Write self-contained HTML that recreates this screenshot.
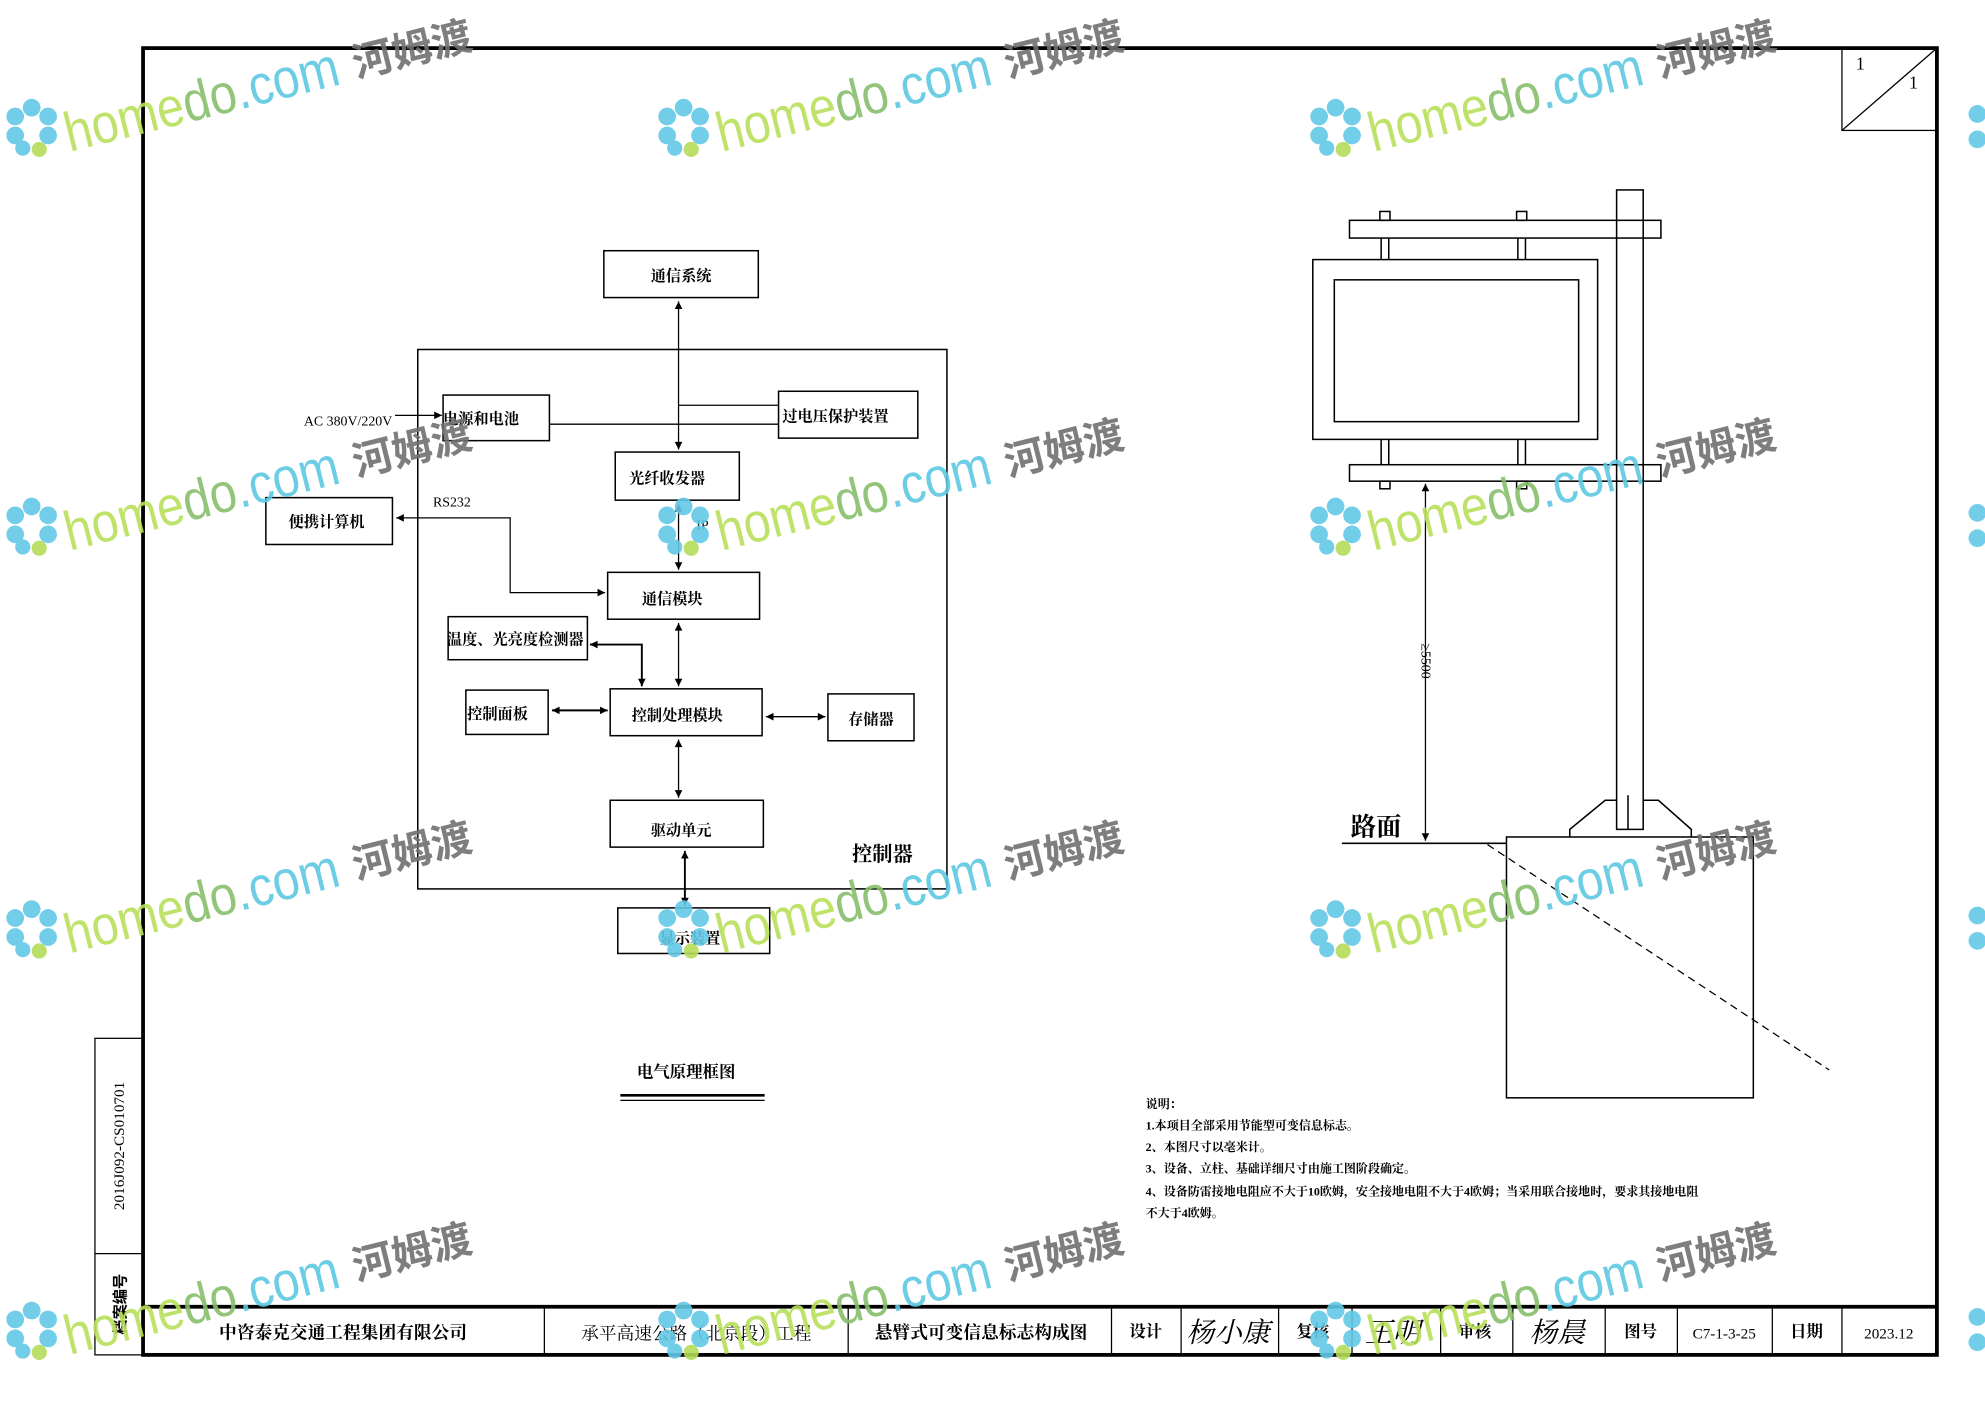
<!DOCTYPE html>
<html><head><meta charset="utf-8"><style>
html,body{margin:0;padding:0;background:#fff}
svg{display:block}
text{font-family:"Liberation Serif","Noto Serif CJK SC","Noto Sans CJK SC",serif}
.b{font-family:"Liberation Sans","Noto Sans CJK SC",sans-serif;font-weight:bold}
.w{font-family:"Liberation Sans",sans-serif}
</style></head><body>
<svg width="1985" height="1403" viewBox="0 0 1568 1108" preserveAspectRatio="none" xmlns="http://www.w3.org/2000/svg">
<defs>
<marker id="a" viewBox="0 0 10 10" refX="10" refY="5" markerWidth="8" markerHeight="6" orient="auto-start-reverse" markerUnits="userSpaceOnUse"><path d="M0,0L10,5L0,10z" fill="#000"/></marker>
</defs>
<g fill="none" stroke="#000">
<rect x="113" y="38" width="1417" height="1032" stroke-width="3"/>
<line x1="113" y1="1032" x2="1530" y2="1032" stroke-width="3"/>
<g stroke-width="1">
<line x1="430" y1="1032" x2="430" y2="1070"/><line x1="670" y1="1032" x2="670" y2="1070"/>
<line x1="878" y1="1032" x2="878" y2="1070"/><line x1="933" y1="1032" x2="933" y2="1070"/>
<line x1="1010" y1="1032" x2="1010" y2="1070"/><line x1="1068" y1="1032" x2="1068" y2="1070"/>
<line x1="1138" y1="1032" x2="1138" y2="1070"/><line x1="1195" y1="1032" x2="1195" y2="1070"/>
<line x1="1268" y1="1032" x2="1268" y2="1070"/><line x1="1325" y1="1032" x2="1325" y2="1070"/>
<line x1="1400" y1="1032" x2="1400" y2="1070"/><line x1="1455" y1="1032" x2="1455" y2="1070"/>
<rect x="75" y="820" width="38" height="250"/><line x1="75" y1="990" x2="113" y2="990"/>
<rect x="1455" y="38" width="75" height="65"/><line x1="1455" y1="103" x2="1530" y2="38"/>
</g>
<g stroke-width="1.2">
<rect x="330" y="276" width="418" height="426"/>
<rect x="477" y="198" width="122" height="37"/>
<rect x="350" y="312" width="84" height="36"/>
<rect x="615" y="309" width="110" height="37"/>
<rect x="486" y="357" width="98" height="38"/>
<rect x="210" y="393" width="100" height="37"/>
<rect x="480" y="452" width="120" height="37"/>
<rect x="354" y="487" width="110" height="34"/>
<rect x="368" y="545" width="65" height="35"/>
<rect x="482" y="544" width="120" height="37"/>
<rect x="654" y="548" width="68" height="37"/>
<rect x="482" y="632" width="121" height="37"/>
<rect x="488" y="717" width="120" height="36"/>
</g>
<g stroke-width="1">
<line x1="536" y1="238" x2="536" y2="355" marker-start="url(#a)" marker-end="url(#a)"/>
<polyline points="536,320 615,320"/>
<line x1="434" y1="335" x2="615" y2="335"/>
<line x1="312" y1="328" x2="349" y2="328" marker-end="url(#a)"/>
<line x1="536" y1="398" x2="536" y2="450" marker-start="url(#a)" marker-end="url(#a)"/>
<polyline points="313,409 403,409 403,468 478,468" marker-start="url(#a)" marker-end="url(#a)"/>
<line x1="536" y1="492" x2="536" y2="542" marker-start="url(#a)" marker-end="url(#a)"/>
<polyline points="466,509 507,509 507,542" marker-start="url(#a)" marker-end="url(#a)" stroke-width="1.5"/>
<line x1="436" y1="561" x2="480" y2="561" marker-start="url(#a)" marker-end="url(#a)" stroke-width="1.5"/>
<line x1="605" y1="566" x2="652" y2="566" marker-start="url(#a)" marker-end="url(#a)"/>
<line x1="536" y1="584" x2="536" y2="630" marker-start="url(#a)" marker-end="url(#a)"/>
<line x1="541" y1="672" x2="541" y2="715" marker-start="url(#a)" marker-end="url(#a)" stroke-width="1.5"/>
<line x1="490" y1="865" x2="604" y2="865" stroke-width="2"/>
<line x1="490" y1="869" x2="604" y2="869"/>
</g>
<g stroke-width="1.2">
<rect x="1277" y="150" width="21" height="505"/>
<rect x="1066" y="174" width="246" height="14"/>
<rect x="1066" y="367" width="246" height="13"/>
<rect x="1037" y="205" width="225" height="142"/>
<rect x="1054" y="221" width="193" height="112"/>
<line x1="1091" y1="188" x2="1091" y2="205"/><line x1="1097" y1="188" x2="1097" y2="205"/>
<line x1="1199" y1="188" x2="1199" y2="205"/><line x1="1205" y1="188" x2="1205" y2="205"/>
<line x1="1091" y1="347" x2="1091" y2="367"/><line x1="1097" y1="347" x2="1097" y2="367"/>
<line x1="1199" y1="347" x2="1199" y2="367"/><line x1="1205" y1="347" x2="1205" y2="367"/>
<rect x="1090" y="167" width="8" height="7"/><rect x="1198" y="167" width="8" height="7"/>
<rect x="1090" y="380" width="8" height="6"/><rect x="1198" y="380" width="8" height="6"/>
<polyline points="1240,661 1240,655 1268,632 1277,632"/><polyline points="1298,632 1310,632 1336,655 1336,661"/>
<line x1="1286" y1="628" x2="1286" y2="655"/>
<rect x="1190" y="661" width="195" height="206"/>
<line x1="1060" y1="666" x2="1190" y2="666"/>
</g>
<line x1="1126" y1="382" x2="1126" y2="664" stroke-width="1" marker-start="url(#a)" marker-end="url(#a)"/>
<line x1="1175" y1="667" x2="1445" y2="845" stroke-width="1" stroke-dasharray="6,4"/>
</g>
<g fill="#000" font-size="12" text-anchor="middle" class="b">
<text x="538" y="222">通信系统</text>
<text x="380" y="335">电源和电池</text>
<text x="660" y="333">过电压保护装置</text>
<text x="527" y="382">光纤收发器</text>
<text x="258" y="416">便携计算机</text>
<text x="531" y="477">通信模块</text>
<text x="407" y="509">温度、光亮度检测器</text>
<text x="393" y="568">控制面板</text>
<text x="535" y="569">控制处理模块</text>
<text x="688" y="572">存储器</text>
<text x="538" y="660">驱动单元</text>
<text x="545" y="745">显示装置</text>
<text x="697" y="680" font-size="16">控制器</text>
<text x="542" y="851" font-size="13">电气原理框图</text>
<text x="1087" y="660" font-size="20">路面</text>
</g>
<g fill="#000" font-size="11">
<text x="240" y="336">AC 380V/220V</text>
<text x="342" y="400">RS232</text>
<text x="550" y="418">IP</text>
<text transform="translate(1123,522) rotate(90)" text-anchor="middle">≥5500</text>
</g>
<g fill="#000" font-size="9.5" class="b">
<text x="905" y="875">说明：</text>
<text x="905" y="892">1.本项目全部采用节能型可变信息标志。</text>
<text x="905" y="909">2、本图尺寸以毫米计。</text>
<text x="905" y="926">3、设备、立柱、基础详细尺寸由施工图阶段确定。</text>
<text x="905" y="944">4、设备防雷接地电阻应不大于10欧姆，安全接地电阻不大于4欧姆；当采用联合接地时，要求其接地电阻</text>
<text x="905" y="961">不大于4欧姆。</text>
</g>
<g fill="#000" font-size="14" text-anchor="middle" class="b">
<text x="271" y="1057">中咨泰克交通工程集团有限公司</text>
<text x="550" y="1058" style="font-weight:normal">承平高速公路（北京段）工程</text>
<text x="775" y="1057">悬臂式可变信息标志构成图</text>
<text x="905" y="1056" font-size="13">设计</text>
<text x="970" y="1060" font-size="22" font-style="italic" style="font-weight:normal">杨小康</text>
<text x="1037" y="1056" font-size="13">复核</text>
<text x="1100" y="1060" font-size="22" font-style="italic" style="font-weight:normal">王明</text>
<text x="1165" y="1056" font-size="13">审核</text>
<text x="1230" y="1060" font-size="22" font-style="italic" style="font-weight:normal">杨晨</text>
<text x="1296" y="1056" font-size="13">图号</text>
<text x="1362" y="1057" font-size="12" style="font-weight:normal">C7-1-3-25</text>
<text x="1427" y="1056" font-size="13">日期</text>
<text x="1492" y="1057" font-size="12" style="font-weight:normal">2023.12</text>
</g>
<text transform="translate(98,905) rotate(-90)" text-anchor="middle" font-size="12">2016J092-CS010701</text>
<text transform="translate(99,1030) rotate(-90)" text-anchor="middle" font-size="12" class="b">档案编号</text>
<text x="1466" y="55" font-size="14">1</text>
<text x="1508" y="70" font-size="14">1</text>
<g opacity="0.9">
<g transform="translate(25,100)"><g fill="#62c8e6"><circle cx="0" cy="-15" r="7"/><circle cx="13" cy="-8" r="7"/><circle cx="13" cy="7" r="7"/><circle cx="-13" cy="-8" r="7"/><circle cx="-13" cy="7" r="7"/><circle cx="-7" cy="17" r="6"/></g><circle cx="6" cy="18" r="6" fill="#b5dc5a"/><g transform="translate(30,20) rotate(-14)"><text class="w" font-size="44" textLength="222" lengthAdjust="spacingAndGlyphs" fill="#b8e05a">home<tspan fill="#86bf6a">do</tspan><tspan fill="#5cc8e2">.com</tspan></text><text x="234" y="-2" font-size="32" class="b" fill="#707070">河姆渡</text></g></g>
<g transform="translate(540,100)"><g fill="#62c8e6"><circle cx="0" cy="-15" r="7"/><circle cx="13" cy="-8" r="7"/><circle cx="13" cy="7" r="7"/><circle cx="-13" cy="-8" r="7"/><circle cx="-13" cy="7" r="7"/><circle cx="-7" cy="17" r="6"/></g><circle cx="6" cy="18" r="6" fill="#b5dc5a"/><g transform="translate(30,20) rotate(-14)"><text class="w" font-size="44" textLength="222" lengthAdjust="spacingAndGlyphs" fill="#b8e05a">home<tspan fill="#86bf6a">do</tspan><tspan fill="#5cc8e2">.com</tspan></text><text x="234" y="-2" font-size="32" class="b" fill="#707070">河姆渡</text></g></g>
<g transform="translate(1055,100)"><g fill="#62c8e6"><circle cx="0" cy="-15" r="7"/><circle cx="13" cy="-8" r="7"/><circle cx="13" cy="7" r="7"/><circle cx="-13" cy="-8" r="7"/><circle cx="-13" cy="7" r="7"/><circle cx="-7" cy="17" r="6"/></g><circle cx="6" cy="18" r="6" fill="#b5dc5a"/><g transform="translate(30,20) rotate(-14)"><text class="w" font-size="44" textLength="222" lengthAdjust="spacingAndGlyphs" fill="#b8e05a">home<tspan fill="#86bf6a">do</tspan><tspan fill="#5cc8e2">.com</tspan></text><text x="234" y="-2" font-size="32" class="b" fill="#707070">河姆渡</text></g></g>
<g transform="translate(25,415)"><g fill="#62c8e6"><circle cx="0" cy="-15" r="7"/><circle cx="13" cy="-8" r="7"/><circle cx="13" cy="7" r="7"/><circle cx="-13" cy="-8" r="7"/><circle cx="-13" cy="7" r="7"/><circle cx="-7" cy="17" r="6"/></g><circle cx="6" cy="18" r="6" fill="#b5dc5a"/><g transform="translate(30,20) rotate(-14)"><text class="w" font-size="44" textLength="222" lengthAdjust="spacingAndGlyphs" fill="#b8e05a">home<tspan fill="#86bf6a">do</tspan><tspan fill="#5cc8e2">.com</tspan></text><text x="234" y="-2" font-size="32" class="b" fill="#707070">河姆渡</text></g></g>
<g transform="translate(540,415)"><g fill="#62c8e6"><circle cx="0" cy="-15" r="7"/><circle cx="13" cy="-8" r="7"/><circle cx="13" cy="7" r="7"/><circle cx="-13" cy="-8" r="7"/><circle cx="-13" cy="7" r="7"/><circle cx="-7" cy="17" r="6"/></g><circle cx="6" cy="18" r="6" fill="#b5dc5a"/><g transform="translate(30,20) rotate(-14)"><text class="w" font-size="44" textLength="222" lengthAdjust="spacingAndGlyphs" fill="#b8e05a">home<tspan fill="#86bf6a">do</tspan><tspan fill="#5cc8e2">.com</tspan></text><text x="234" y="-2" font-size="32" class="b" fill="#707070">河姆渡</text></g></g>
<g transform="translate(1055,415)"><g fill="#62c8e6"><circle cx="0" cy="-15" r="7"/><circle cx="13" cy="-8" r="7"/><circle cx="13" cy="7" r="7"/><circle cx="-13" cy="-8" r="7"/><circle cx="-13" cy="7" r="7"/><circle cx="-7" cy="17" r="6"/></g><circle cx="6" cy="18" r="6" fill="#b5dc5a"/><g transform="translate(30,20) rotate(-14)"><text class="w" font-size="44" textLength="222" lengthAdjust="spacingAndGlyphs" fill="#b8e05a">home<tspan fill="#86bf6a">do</tspan><tspan fill="#5cc8e2">.com</tspan></text><text x="234" y="-2" font-size="32" class="b" fill="#707070">河姆渡</text></g></g>
<g transform="translate(25,733)"><g fill="#62c8e6"><circle cx="0" cy="-15" r="7"/><circle cx="13" cy="-8" r="7"/><circle cx="13" cy="7" r="7"/><circle cx="-13" cy="-8" r="7"/><circle cx="-13" cy="7" r="7"/><circle cx="-7" cy="17" r="6"/></g><circle cx="6" cy="18" r="6" fill="#b5dc5a"/><g transform="translate(30,20) rotate(-14)"><text class="w" font-size="44" textLength="222" lengthAdjust="spacingAndGlyphs" fill="#b8e05a">home<tspan fill="#86bf6a">do</tspan><tspan fill="#5cc8e2">.com</tspan></text><text x="234" y="-2" font-size="32" class="b" fill="#707070">河姆渡</text></g></g>
<g transform="translate(540,733)"><g fill="#62c8e6"><circle cx="0" cy="-15" r="7"/><circle cx="13" cy="-8" r="7"/><circle cx="13" cy="7" r="7"/><circle cx="-13" cy="-8" r="7"/><circle cx="-13" cy="7" r="7"/><circle cx="-7" cy="17" r="6"/></g><circle cx="6" cy="18" r="6" fill="#b5dc5a"/><g transform="translate(30,20) rotate(-14)"><text class="w" font-size="44" textLength="222" lengthAdjust="spacingAndGlyphs" fill="#b8e05a">home<tspan fill="#86bf6a">do</tspan><tspan fill="#5cc8e2">.com</tspan></text><text x="234" y="-2" font-size="32" class="b" fill="#707070">河姆渡</text></g></g>
<g transform="translate(1055,733)"><g fill="#62c8e6"><circle cx="0" cy="-15" r="7"/><circle cx="13" cy="-8" r="7"/><circle cx="13" cy="7" r="7"/><circle cx="-13" cy="-8" r="7"/><circle cx="-13" cy="7" r="7"/><circle cx="-7" cy="17" r="6"/></g><circle cx="6" cy="18" r="6" fill="#b5dc5a"/><g transform="translate(30,20) rotate(-14)"><text class="w" font-size="44" textLength="222" lengthAdjust="spacingAndGlyphs" fill="#b8e05a">home<tspan fill="#86bf6a">do</tspan><tspan fill="#5cc8e2">.com</tspan></text><text x="234" y="-2" font-size="32" class="b" fill="#707070">河姆渡</text></g></g>
<g transform="translate(25,1050)"><g fill="#62c8e6"><circle cx="0" cy="-15" r="7"/><circle cx="13" cy="-8" r="7"/><circle cx="13" cy="7" r="7"/><circle cx="-13" cy="-8" r="7"/><circle cx="-13" cy="7" r="7"/><circle cx="-7" cy="17" r="6"/></g><circle cx="6" cy="18" r="6" fill="#b5dc5a"/><g transform="translate(30,20) rotate(-14)"><text class="w" font-size="44" textLength="222" lengthAdjust="spacingAndGlyphs" fill="#b8e05a">home<tspan fill="#86bf6a">do</tspan><tspan fill="#5cc8e2">.com</tspan></text><text x="234" y="-2" font-size="32" class="b" fill="#707070">河姆渡</text></g></g>
<g transform="translate(540,1050)"><g fill="#62c8e6"><circle cx="0" cy="-15" r="7"/><circle cx="13" cy="-8" r="7"/><circle cx="13" cy="7" r="7"/><circle cx="-13" cy="-8" r="7"/><circle cx="-13" cy="7" r="7"/><circle cx="-7" cy="17" r="6"/></g><circle cx="6" cy="18" r="6" fill="#b5dc5a"/><g transform="translate(30,20) rotate(-14)"><text class="w" font-size="44" textLength="222" lengthAdjust="spacingAndGlyphs" fill="#b8e05a">home<tspan fill="#86bf6a">do</tspan><tspan fill="#5cc8e2">.com</tspan></text><text x="234" y="-2" font-size="32" class="b" fill="#707070">河姆渡</text></g></g>
<g transform="translate(1055,1050)"><g fill="#62c8e6"><circle cx="0" cy="-15" r="7"/><circle cx="13" cy="-8" r="7"/><circle cx="13" cy="7" r="7"/><circle cx="-13" cy="-8" r="7"/><circle cx="-13" cy="7" r="7"/><circle cx="-7" cy="17" r="6"/></g><circle cx="6" cy="18" r="6" fill="#b5dc5a"/><g transform="translate(30,20) rotate(-14)"><text class="w" font-size="44" textLength="222" lengthAdjust="spacingAndGlyphs" fill="#b8e05a">home<tspan fill="#86bf6a">do</tspan><tspan fill="#5cc8e2">.com</tspan></text><text x="234" y="-2" font-size="32" class="b" fill="#707070">河姆渡</text></g></g>
<g fill="#62c8e6"><circle cx="1562" cy="90" r="7"/><circle cx="1562" cy="110" r="7"/><circle cx="1562" cy="405" r="7"/><circle cx="1562" cy="425" r="7"/><circle cx="1562" cy="723" r="7"/><circle cx="1562" cy="743" r="7"/><circle cx="1562" cy="1040" r="7"/><circle cx="1562" cy="1060" r="7"/></g>
</g>
</svg>
</body></html>
